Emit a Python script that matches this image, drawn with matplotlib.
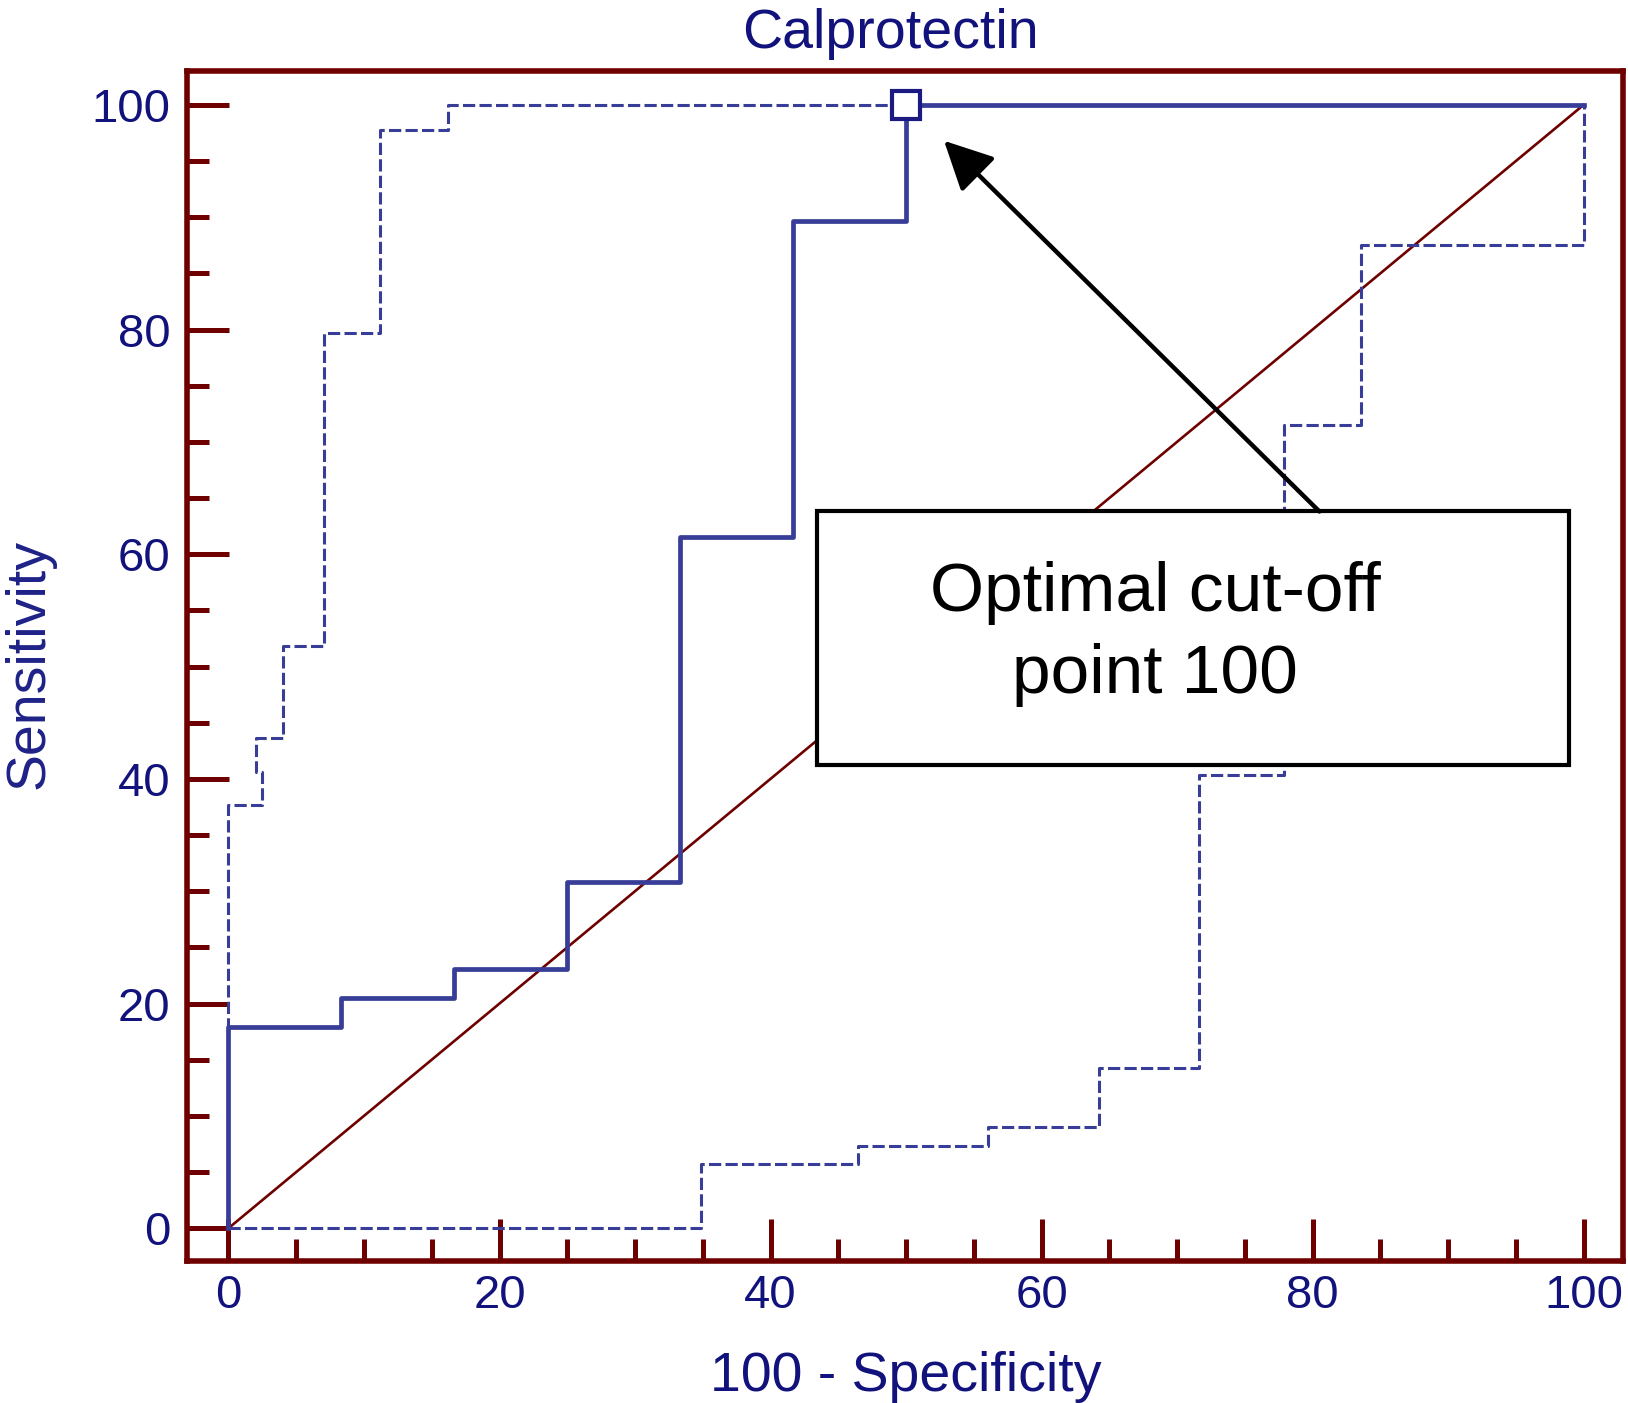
import matplotlib.pyplot as plt
from matplotlib.patches import Rectangle

plt.rcParams['font.family'] = ['Liberation Sans', 'DejaVu Sans']

# ROC curve (100 - specificity, sensitivity)
roc_x = [0, 0, 8.33, 16.67, 25.0, 33.33, 41.67, 50.0, 100]
roc_y = [0, 17.9, 20.5, 23.1, 30.8, 61.5, 89.7, 100, 100]

# upper confidence bound
up_x = [0, 0, 2.45, 2.0, 4.0, 7.05, 11.2, 16.2, 100]
up_y = [0, 37.7, 40.6, 43.6, 51.8, 79.7, 97.8, 100, 100]

# lower confidence bound
lo_x = [0, 34.85, 46.45, 56.05, 64.2, 71.6, 77.9, 83.6, 100]
lo_y = [0, 5.75, 7.3, 9.05, 14.25, 40.3, 71.5, 87.5, 100]

cut_x, cut_y = 50.0, 100.0

frame = '#6e0000'
navy = '#12127c'
line_blue = '#383d98'

fig = plt.figure(figsize=(16.28, 14.03), dpi=100)
ax = fig.add_axes([0.1148, 0.1009, 0.8821, 0.8488])

ax.plot([0, 100], [0, 100], color=frame, lw=1.9, zorder=2)
ax.plot(up_x, up_y, drawstyle='steps-post', color=line_blue, lw=2.2,
        linestyle=(0, (4, 1.4)), zorder=3)
ax.plot(lo_x, lo_y, drawstyle='steps-post', color=line_blue, lw=2.2,
        linestyle=(0, (4, 1.4)), zorder=3)
ax.plot(roc_x, roc_y, drawstyle='steps-post', color=line_blue, lw=3.4, zorder=4)
ax.plot([cut_x], [cut_y], marker='s', ms=19.5, mfc='white', mec='#1a1a80', mew=3,
        zorder=6, clip_on=False)

# annotation box and arrow
ax.add_patch(Rectangle((43.4, 41.2), 55.5, 22.6, facecolor='white',
                       edgecolor='black', lw=3, zorder=7))
ax.text(68.4, 52.9, 'Optimal cut-off\npoint 100', ha='center', va='center',
        fontsize=50, color='black', linespacing=1.37, zorder=8)
ax.annotate('', xy=(52.8, 96.8), xytext=(80.5, 63.8),
            arrowprops=dict(arrowstyle='-|>,head_length=1.5,head_width=0.75',
                            mutation_scale=20, lw=3.2, color='black',
                            shrinkA=0, shrinkB=0), zorder=8)

ax.set_xlim(-3.07, 102.9)
ax.set_ylim(-2.96, 103.05)
ax.set_xticks(range(0, 101, 20))
ax.set_yticks(range(0, 101, 20))
ax.set_xticks(range(0, 101, 5), minor=True)
ax.set_yticks(range(0, 101, 5), minor=True)

for s in ax.spines.values():
    s.set_color(frame)
    s.set_linewidth(4)
ax.tick_params(which='both', direction='in', color=frame, width=3.6,
               labelcolor=navy, labelsize=34)
ax.tick_params(which='major', length=30)
ax.tick_params(which='minor', length=16)
ax.tick_params(axis='x', pad=9)
ax.tick_params(axis='y', pad=12)

fig.text(0.5467, 0.976, 'Calprotectin', ha='center', va='center',
         fontsize=40, color=navy)
fig.text(0.5566, 0.0187, '100 - Specificity', ha='center', va='center',
         fontsize=40, color=navy)
fig.text(0.0179, 0.5264, 'Sensitivity', ha='center', va='center',
         rotation=90, fontsize=40, color='#1e2288')

fig.savefig('out.png', dpi=100)
